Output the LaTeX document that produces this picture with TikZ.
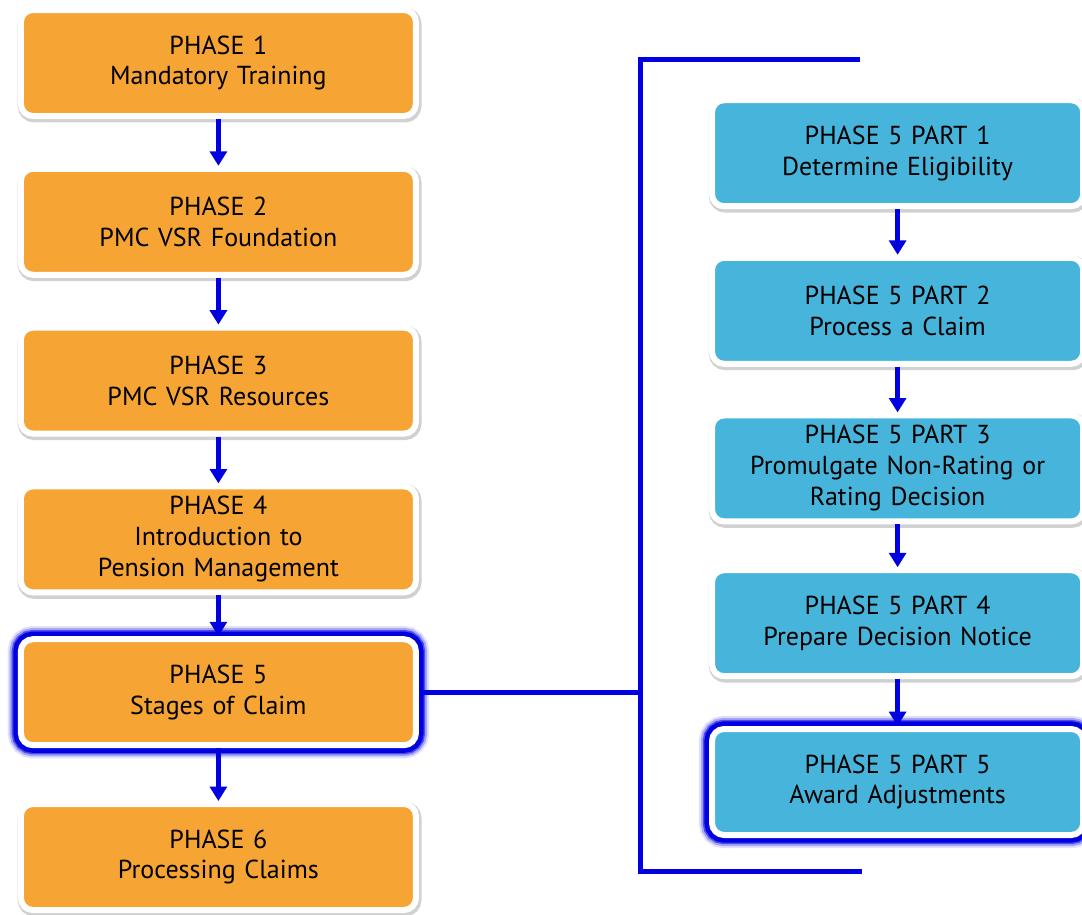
\documentclass[tikz,border=0pt]{standalone}
\usepackage{fontspec}
\setmainfont{PT Sans}
\usepackage{xcolor}
\usepackage{tikz}
\usetikzlibrary{arrows.meta, positioning, calc}
\definecolor{phaseorange}{RGB}{246, 164, 52}
\definecolor{partblue}{RGB}{71, 181, 219}
\definecolor{linkblue}{RGB}{0, 0, 225}

\begin{document}
\begin{tikzpicture}[
  phase/.style={draw=white, line width=0.15cm, fill=phaseorange, rounded corners=0.3cm,
    minimum width=9.875cm, minimum height=2.65cm, text width=9.4cm, align=center,
    font=\fontsize{18.5}{22}\selectfont,
    preaction={draw=black!18, line width=0.22cm, transform canvas={xshift=0.03cm, yshift=-0.05cm}}},
  part/.style={phase, fill=partblue, minimum width=9.28cm, text width=9cm},
  current/.style={preaction={draw=linkblue!12, line width=0.66cm},
    preaction={draw=linkblue!35, line width=0.56cm},
    preaction={draw=linkblue!70, line width=0.46cm},
    preaction={draw=linkblue, line width=0.38cm}},
  flow/.style={-{Triangle[length=0.36cm, width=0.42cm]}, line width=0.13cm, draw=linkblue},
  bracket/.style={line width=0.125cm, draw=linkblue}]
\useasboundingbox (0,0) rectangle (27.05,-22.85);

% main phases
\node[phase] (p1) at (5.46,-1.575) {PHASE 1\\Mandatory Training};
\node[phase, below=1.17cm of p1] (p2) {PHASE 2\\PMC VSR Foundation};
\node[phase, below=1.17cm of p2] (p3) {PHASE 3\\PMC VSR Resources};
\node[phase, below=1.17cm of p3] (p4) {PHASE 4\\Introduction to\\Pension Management};
\node[phase, current, below=1.02cm of p4] (p5) {PHASE 5\\Stages of Claim};
\node[phase, below=1.32cm of p5] (p6) {PHASE 6\\Processing Claims};

% parts of phase 5
\node[part] (q1) at (22.44,-3.83) {PHASE 5 PART 1\\Determine Eligibility};
\node[part, below=1.14cm of q1] (q2) {PHASE 5 PART 2\\Process a Claim};
\node[part, below=1.14cm of q2] (q3) {PHASE 5 PART 3\\Promulgate Non-Rating or\\Rating Decision};
\node[part, below=1.07cm of q3] (q4) {PHASE 5 PART 4\\Prepare Decision Notice};
\node[part, current, below=1.17cm of q4] (q5) {PHASE 5 PART 5\\Award Adjustments};

\foreach \a/\b in {p1/p2, p2/p3, p3/p4, p4/p5, p5/p6, q1/q2, q2/q3, q3/q4, q4/q5}
  \draw[flow] (\a) -- (\b);

% bracket
\coordinate (btop) at (21.5,-1.48);
\coordinate (bbot) at (21.55,-21.78);
\coordinate (bx) at (16.02,0);
\draw[bracket] (btop) -- (btop -| bx) -- (bbot -| bx) -- (bbot);
\draw[bracket] (p5.east) -- (p5.east -| bx);
\end{tikzpicture}
\end{document}
